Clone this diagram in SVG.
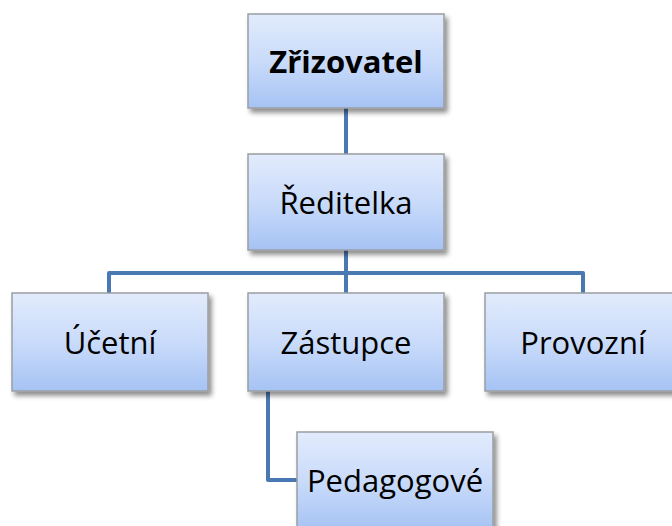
<svg xmlns="http://www.w3.org/2000/svg" width="672" height="526" viewBox="0 0 672 526">
  <defs>
    <linearGradient id="boxFill" x1="0" y1="0" x2="0" y2="1">
      <stop offset="0" stop-color="#e2ebfc"/>
      <stop offset="0.5" stop-color="#c9dbfa"/>
      <stop offset="1" stop-color="#a6c3f4"/>
    </linearGradient>
    <filter id="shadow" x="-10%" y="-10%" width="125%" height="130%">
      <feGaussianBlur in="SourceAlpha" stdDeviation="2.5"/>
      <feOffset dx="3" dy="4" result="b"/>
      <feComponentTransfer><feFuncA type="linear" slope="0.45"/></feComponentTransfer>
      <feMerge><feMergeNode/><feMergeNode in="SourceGraphic"/></feMerge>
    </filter>
  </defs>
  <style>
    .box { fill: url(#boxFill); stroke: #9b9ea3; stroke-width: 1.5; filter: url(#shadow); }
    .label { font-family: "Open Sans", "Noto Sans", sans-serif; font-size: 31px; fill: #000; text-anchor: middle; dominant-baseline: central; }
    .bold { font-weight: bold; }
    .link { fill: none; stroke: #4a78b2; stroke-width: 4; stroke-linejoin: round; }
  </style>
  <rect width="672" height="526" fill="#fff"/>

  <g id="connectors">
    <path class="link" d="M346,108 V154"/>
    <path class="link" d="M346,250 V273"/>
    <path class="link" d="M109,293 V273 H583 V293"/>
    <path class="link" d="M346,273 V293"/>
    <path class="link" d="M268,391 V480 H297"/>
  </g>

  <g id="zrizovatel">
    <rect class="box" x="248" y="14" width="196" height="94"/>
    <text class="label bold" x="346" y="61">Zřizovatel</text>
  </g>
  <g id="reditelka">
    <rect class="box" x="248" y="154" width="196" height="96"/>
    <text class="label" x="346" y="202">Ředitelka</text>
  </g>
  <g id="ucetni">
    <rect class="box" x="12" y="293" width="196" height="98"/>
    <text class="label" x="110" y="342">Účetní</text>
  </g>
  <g id="zastupce">
    <rect class="box" x="248" y="293" width="196" height="98"/>
    <text class="label" x="346" y="342">Zástupce</text>
  </g>
  <g id="provozni">
    <rect class="box" x="485" y="293" width="196" height="98"/>
    <text class="label" x="583" y="342">Provozní</text>
  </g>
  <g id="pedagogove">
    <rect class="box" x="297" y="432" width="196" height="98"/>
    <text class="label" x="395" y="480">Pedagogové</text>
  </g>
</svg>
